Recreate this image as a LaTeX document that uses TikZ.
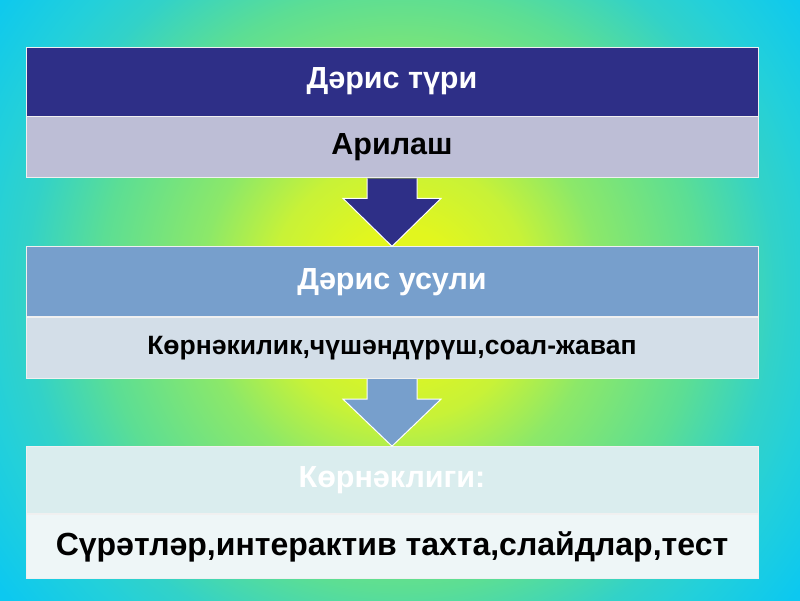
\documentclass[tikz,border=0pt]{standalone}
\usepackage{fontspec}
\setmainfont{Liberation Sans}
\usetikzlibrary{positioning,calc}
% colours
\definecolor{hdA}{HTML}{2E2F87}
\definecolor{bdA}{HTML}{BDBED6}
\definecolor{hdB}{HTML}{779FCC}
\definecolor{bdB}{HTML}{D3DEE8}
\definecolor{hdC}{HTML}{DAEDEE}
\definecolor{bdC}{HTML}{EEF6F7}
\definecolor{glowA}{RGB}{226,246,30}
\definecolor{glowB}{RGB}{200,242,55}
\definecolor{glowC}{RGB}{140,232,105}
\definecolor{glowD}{RGB}{92,222,148}
\definecolor{glowE}{RGB}{50,210,200}
\definecolor{glowF}{RGB}{35,208,218}
\definecolor{glowG}{RGB}{12,200,240}
\pgfdeclareradialshading{bgglow}{\pgfpoint{0bp}{0bp}}{%
  color(0bp)=(glowA); color(3bp)=(glowA); color(6.5bp)=(glowB);
  color(10bp)=(glowC); color(15bp)=(glowD); color(18.75bp)=(glowE);
  color(21bp)=(glowF); color(25bp)=(glowG); color(35bp)=(glowG)}
\tikzset{
  band/.style={rectangle,draw=white!88!gray,line width=0.9pt,
    minimum width=732pt,inner sep=0pt},
  hdband/.style={band,text=white,font=\fontsize{30.5}{32}\selectfont\bfseries},
  bdband/.style={band,text=black},
  blockarrow/.style={draw=white,line width=1pt,line join=miter}
}
\begin{document}
\begin{tikzpicture}[x=1pt,y=-1pt]
\useasboundingbox (0,0) rectangle (800,600);
% background glow
\begin{scope}
\clip (0,0) rectangle (800,600);
\shade[shading=bgglow] (-100,-210) rectangle (900,790);
\end{scope}
% panel 1
\node[hdband,fill=hdA,minimum height=69pt] (hdA) at (392,81.5) {Дәрис түри};
\node[bdband,fill=bdA,minimum height=61pt,below=0pt of hdA,
  font=\fontsize{30.5}{32}\selectfont\bfseries] (bdA) {Арилаш};
% panel 2
\node[hdband,fill=hdB,minimum height=70pt,below=68pt of bdA] (hdB) {Дәрис усули};
\node[bdband,fill=bdB,minimum height=61pt,below=0pt of hdB,
  font=\fontsize{26.5}{28}\selectfont\bfseries] (bdB) {Көрнәкилик,чүшәндүрүш,соал-жавап};
% panel 3
\node[hdband,fill=hdC,minimum height=67pt,below=67pt of bdB] (hdC) {Көрнәклиги:};
\node[bdband,fill=bdC,minimum height=64pt,below=0pt of hdC,
  font=\fontsize{32}{34}\selectfont\bfseries] (bdC) {Сүрәтләр,интерактив тахта,слайдлар,тест};
% arrows between panels
\draw[blockarrow,fill=hdA] ($(bdA.south)+(-25,0)$) -- ($(bdA.south)+(-25,20)$)
  -- ($(bdA.south)+(-49,20)$) -- (hdB.north) -- ($(bdA.south)+(49,20)$)
  -- ($(bdA.south)+(25,20)$) -- ($(bdA.south)+(25,0)$);
\draw[blockarrow,fill=hdB] ($(bdB.south)+(-25,0)$) -- ($(bdB.south)+(-25,20)$)
  -- ($(bdB.south)+(-49,20)$) -- (hdC.north) -- ($(bdB.south)+(49,20)$)
  -- ($(bdB.south)+(25,20)$) -- ($(bdB.south)+(25,0)$);
\end{tikzpicture}
\end{document}
